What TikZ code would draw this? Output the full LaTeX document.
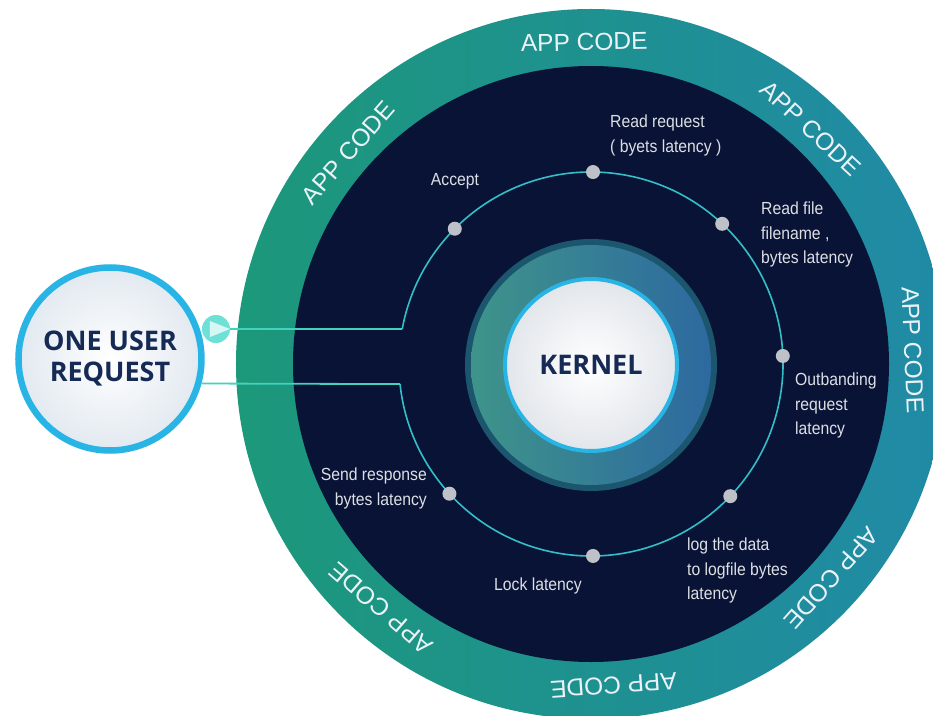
\documentclass[tikz,border=0pt]{standalone}
\usepackage{fontspec}
\setmainfont{Liberation Sans}
\newfontfamily\labfont[FakeStretch=0.9]{Liberation Sans}
\newfontfamily\headfont{Open Sans}
\definecolor{ringgreen}{RGB}{28,152,122}
\definecolor{ringblue}{RGB}{30,95,150}
\definecolor{ringteal}{RGB}{32,138,166}
\definecolor{navybg}{RGB}{9,19,54}
\definecolor{kdark}{RGB}{28,85,110}
\definecolor{kgreen}{RGB}{62,148,138}
\definecolor{kblue}{RGB}{45,105,160}
\definecolor{kcyan}{RGB}{40,180,228}
\definecolor{kwhiteedge}{RGB}{226,230,235}
\definecolor{ucyan}{RGB}{40,180,228}
\definecolor{uedge}{RGB}{226,233,240}
\definecolor{navytext}{RGB}{22,42,86}
\definecolor{labgray}{RGB}{220,223,228}
\definecolor{appwhite}{RGB}{235,242,248}
\definecolor{dotgray}{RGB}{190,193,200}
\definecolor{linecyan}{RGB}{66,210,192}
\definecolor{orbitcyan}{RGB}{52,190,200}
\definecolor{bubcyan}{RGB}{110,225,215}
\definecolor{bubtri}{RGB}{215,247,244}
\begin{document}
\begin{tikzpicture}[x=1pt,y=1pt,
  lab/.style={font=\labfont\fontsize{17.5}{24.5}\selectfont, text=labgray, inner sep=0pt},
  appc/.style={font=\fontsize{24.5}{28}\selectfont, text=appwhite, inner sep=0pt},
  dot/.style={circle, fill=dotgray, minimum size=14pt, inner sep=0pt},
  conn/.style={draw=linecyan, line width=1.8pt},
  orbit/.style={draw=orbitcyan, line width=1.6pt},
  head/.style={font=\headfont\bfseries\fontsize{27}{31}\selectfont, text=navytext, align=center, inner sep=0pt}]
\useasboundingbox (-591,-351) rectangle (342,364);
\clip (-591,-351) rectangle (342,364);
\fill[white] (-591,-351) rectangle (342,364);
% outer ring
\shade[left color=ringgreen, middle color=ringblue, right color=ringteal] (0,0) circle[radius=355];
\fill[navybg] (0,0) circle[radius=298];
% APP CODE labels
\foreach \a in {139,91.2,47,2.5,-41.7,-86,-130.7}{
  \node[appc, rotate=\a-90] at (\a:322) {APP CODE};
}
% kernel
\fill[kdark] (0,-1) circle[radius=126];
\shade[left color=kgreen, right color=kblue] (0,-1) circle[radius=120];
\node[head, circle, minimum size=172pt, draw=kcyan, line width=4pt, inner color=white, outer color=kwhiteedge] (kernel) at (0,-1) {KERNEL};
% orbit
\coordinate (jt) at (169.5:192);
\coordinate (jb) at (186:192);
\draw[orbit] (jt) arc[start angle=169.5, end angle=-174, radius=192];
% dots
\node[dot] (d1) at (135.2:192) {};
\node[dot] (d2) at (89.4:192) {};
\node[dot] (d3) at (46.9:192) {};
\node[dot] (d4) at (2.4:192) {};
\node[dot] (d5) at (-43.5:192) {};
\node[dot] (d6) at (-89.4:192) {};
\node[dot] (d7) at (-137.5:192) {};
% labels
\node[lab, anchor=north] (l1) at (-136,191) {Accept};
\node[lab, anchor=north west, align=left] (l2) at (19,249) {Read request\\( byets latency )};
\node[lab, anchor=north west, align=left] (l3) at (170,162) {Read file\\filename ,\\bytes latency};
\node[lab, anchor=north west, align=left] (l4) at (204,-9) {Outbanding\\request\\latency};
\node[lab, anchor=north west, align=left] (l5) at (96,-174) {log the data\\to logfile bytes\\latency};
\node[lab, anchor=north] (l6) at (-53,-214) {Lock latency};
\node[lab, anchor=north east, align=right] (l7) at (-164,-104) {Send response\\bytes latency};
% user request
\node[head, circle, minimum size=183pt, draw=ucyan, line width=6.5pt, inner color=white, outer color=uedge] (user) at (-481,5) {ONE USER\\REQUEST};
\node[circle, fill=bubcyan, minimum size=28pt, inner sep=0pt] (bub) at (-375,35) {};
\fill[bubtri] ([shift={(-6,8)}]bub.center) -- ([shift={(-6,-8)}]bub.center) -- ([shift={(14,0)}]bub.center) -- cycle;
% connectors
\draw[conn] (bub.east) -- (jt);
\draw[conn] (jb) -- (user.-15);
\end{tikzpicture}
\end{document}
